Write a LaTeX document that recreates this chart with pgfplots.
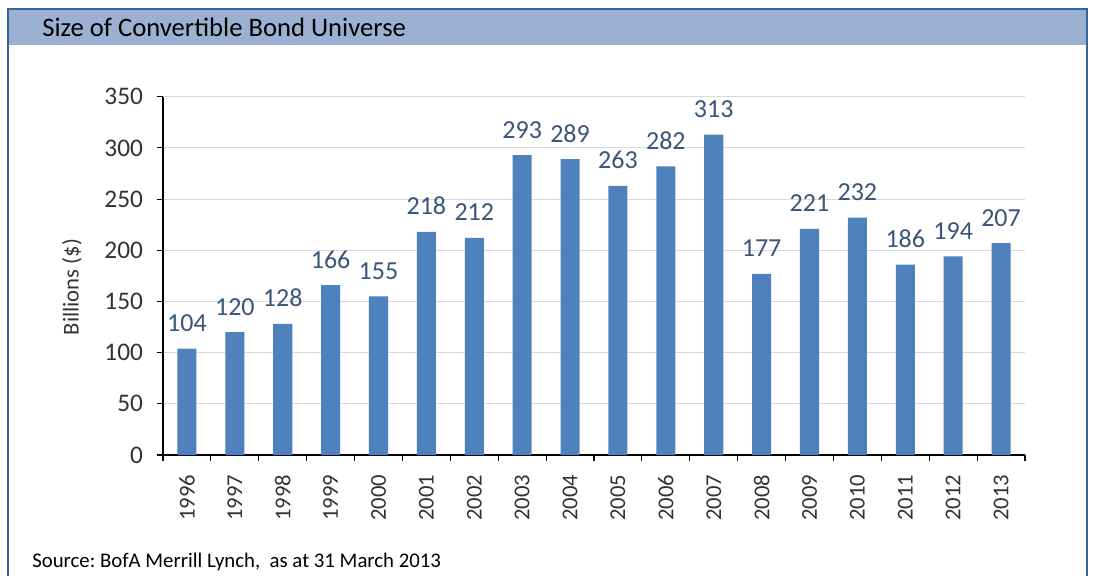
\documentclass[border=0pt]{standalone}
\usepackage{pgfplots}
\pgfplotsset{compat=1.18}
\usepackage{fontspec}
\setmainfont{Carlito}
\frenchspacing
\definecolor{barblue}{HTML}{4F81BD}
\definecolor{headblue}{HTML}{9CB1D1}
\definecolor{frameblue}{HTML}{3565A0}
\definecolor{labelblue}{HTML}{3A5578}
\definecolor{tickgrey}{HTML}{333333}
\definecolor{gridgrey}{HTML}{D9D9D9}
\begin{document}
\begin{tikzpicture}[x=0.75pt,y=0.75pt]
\useasboundingbox (0,0) rectangle (1095,575);
\fill[white] (0,0) rectangle (1095,575);
\fill[headblue] (9,565) rectangle (1086,530);
\draw[frameblue, line width=1.5pt] (8,-1) -- (8,566) -- (1087,566) -- (1087,-1);
\node[anchor=base west, inner sep=0pt, font=\fontsize{20}{22}\selectfont] at (42,538) {Size of Convertible Bond Universe};
\node[anchor=base west, inner sep=0pt, font=\fontsize{15.6}{17}\selectfont] at (32,8) {Source: BofA Merrill Lynch,\ \ as at 31 March 2013};
\node[rotate=90, inner sep=0pt, text=tickgrey, font=\fontsize{17}{19}\selectfont] at (72,288) {Billions (\$)};
\begin{axis}[
  at={(122.25pt,90pt)}, anchor=south west,
  scale only axis, width=646.5pt, height=268.7pt,
  xmin=-0.5, xmax=17.5, ymin=0, ymax=350,
  axis x line=bottom, axis y line=left,
  axis line style={-, black, line width=0.8pt},
  ybar, bar width=14.3pt, bar shift=0pt,
  tick align=outside, major tick length=4.5pt,
  tick style={black, line width=0.8pt},
  /pgf/number format/assume math mode=true,
  xtick={-0.5,0.5,...,17.5}, xticklabels={},
  extra x ticks={0,1,...,17},
  extra x tick labels={1996,1997,1998,1999,2000,2001,2002,2003,2004,2005,2006,2007,2008,2009,2010,2011,2012,2013},
  extra x tick style={tick style={draw=none}, grid=none},
  xticklabel style={rotate=90, anchor=east, inner sep=0pt, xshift=-10pt, font=\fontsize{17}{19}\selectfont, text=tickgrey},
  ytick={0,50,...,350},
  yticklabel style={xshift=-7pt, font=\fontsize{19}{21}\selectfont, text=tickgrey},
  ymajorgrids, grid style={gridgrey, line width=0.8pt},
  nodes near coords,
  every node near coord/.append style={anchor=base, yshift=12.75pt, font=\fontsize{19.5}{21}\selectfont, text=labelblue},
  clip=false,
]
\addplot[fill=barblue, draw=none] coordinates {
(0,104) (1,120) (2,128) (3,166) (4,155) (5,218) (6,212) (7,293) (8,289)
(9,263) (10,282) (11,313) (12,177) (13,221) (14,232) (15,186) (16,194) (17,207)};
\end{axis}
\end{tikzpicture}
\end{document}
